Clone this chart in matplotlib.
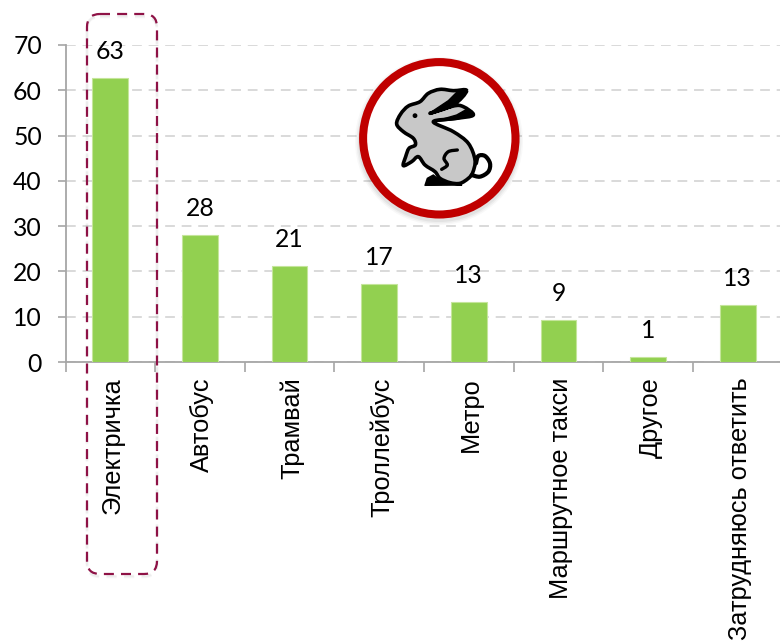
import matplotlib
matplotlib.use("Agg")
import numpy as np
import matplotlib.pyplot as plt
from matplotlib.patches import Circle, FancyBboxPatch, PathPatch, Polygon
from matplotlib.path import Path
from matplotlib.transforms import Affine2D, ScaledTranslation

categories = ["Электричка", "Автобус", "Трамвай", "Троллейбус", "Метро",
              "Маршрутное такси", "Другое", "Затрудняюсь ответить"]
values = [62.8, 28, 21.3, 17.3, 13.2, 9.2, 1, 12.6]
labels = ["63", "28", "21", "17", "13", "9", "1", "13"]
yticks = [0, 10, 20, 30, 40, 50, 60, 70]

W, H = 780, 643
GRAY = "#A6A6A6"
BOX = "#8E1246"

# rabbit outline, pixels of the zoomed crop
rabbit_pts = [(380,122),(340,122),(300,118),(265,130),(240,155),(205,168),(182,192),(170,222),
              (190,245),(220,265),(226,285),(207,295),(197,320),(190,347),(215,335),(235,320),
              (255,345),(285,365),(300,385),(330,398),(360,400),(385,385),(398,368),
              (405,330),(385,280),(340,245),(280,215),(350,205),(400,195),(370,170),(340,168),
              (270,190),(340,165)]
belly_pts = [(305,358),(322,345),(312,325),(325,305),(352,300)]
tail_pts = [(395,375),(420,380),(445,365),(450,340),(435,318),(415,318),(408,340)]
ear1_pts = [(382,122),(352,125),(325,152),(268,190),(340,168)]
ear2_pts = [(402,195),(380,178),(350,195),(278,216),(350,208)]
foot_pts = [(255,406),(262,385),(280,375),(300,392),(335,402),(365,405)]


def px_transform(fig):
    # top-left pixel coordinates -> display
    return Affine2D().scale(1, -1).translate(0, H) + Affine2D().scale(fig.dpi / 100)


def crop(pts):
    return [(340 + x / 3, 50 + y / 3) for x, y in pts]


def smooth(pts, closed=False):
    # catmull-rom through the points, as bezier segments
    p = np.array(pts, dtype=float)
    n = len(p)
    verts = [tuple(p[0])]
    codes = [Path.MOVETO]
    for i in range(n if closed else n - 1):
        p0 = p[(i - 1) % n] if closed or i > 0 else p[i]
        p1, p2 = p[i], p[(i + 1) % n]
        p3 = p[(i + 2) % n] if closed or i + 2 < n else p2
        verts += [tuple(p1 + (p2 - p0) / 6), tuple(p2 - (p3 - p1) / 6), tuple(p2)]
        codes += [Path.CURVE4] * 3
    return Path(verts, codes)


fig = plt.figure(figsize=(7.8, 6.43), dpi=100)
ax = fig.add_axes([65.5 / W, (H - 362) / H, 717 / W, 317 / H])

x = np.arange(len(categories))
ax.bar(x, values, width=0.4, color="#92D050", edgecolor="#C5E59B", linewidth=0.8, zorder=3)

for xi, v, s in zip(x, values, labels):
    ax.annotate(s, (xi, v), xytext=(0, 10.8), textcoords="offset points", ha="center", va="bottom",
                fontsize=17.8, family="Lato", color="black", zorder=5, annotation_clip=False)

ax.set_xlim(-0.5, 7.5)
ax.set_ylim(0, 70)
ax.set_yticks(yticks)
ax.set_yticklabels([str(t) for t in yticks], fontsize=17.8, family="Lato")
ax.set_xticks(x)
ax.set_xticklabels(categories, rotation=90, fontsize=18.3, family="Liberation Sans", va="top", ha="center")
ax.set_xticks(np.arange(-0.5, 8, 1), minor=True)
ax.tick_params(axis="x", which="major", length=0, pad=11)
ax.tick_params(axis="x", which="minor", length=7, width=1.2, color=GRAY)
ax.tick_params(axis="y", length=6, width=1.2, color=GRAY, pad=11)

# the rotated labels sit a little right of the bar centres
shift = ScaledTranslation(2.5 / 100, 0, fig.dpi_scale_trans)
for t in ax.get_xticklabels():
    t.set_transform(t.get_transform() + shift)

ax.grid(axis="y", color="#D9D9D9", linestyle=(0, (5, 3.5)), linewidth=1.4, zorder=0)
ax.set_axisbelow(True)
for side in ["top", "right"]:
    ax.spines[side].set_visible(False)
for side in ["left", "bottom"]:
    ax.spines[side].set_color(GRAY)
    ax.spines[side].set_linewidth(1.3)

tr = px_transform(fig)

# soft shadow + ring
for r, a in [(84, 0.04), (82.5, 0.06), (81, 0.08)]:
    fig.add_artist(Circle((439, 141), r, transform=tr, fc="#555555", ec="none", alpha=a, zorder=6))
fig.add_artist(Circle((439.3, 138.3), 76.2, transform=tr, fc="white", ec="#C00000", lw=5.8, zorder=7))

# rabbit
fig.add_artist(PathPatch(smooth(crop(rabbit_pts), closed=True), transform=tr, fc="#C8C8C8", ec="black",
                         lw=2.6, joinstyle="round", zorder=8))
fig.add_artist(PathPatch(smooth(crop(tail_pts)), transform=tr, fc="none", ec="black", lw=3,
                         capstyle="round", zorder=8))
fig.add_artist(PathPatch(smooth(crop(belly_pts)), transform=tr, fc="none", ec="black", lw=2.4,
                         capstyle="round", zorder=8))
for part in [ear1_pts, ear2_pts, foot_pts]:
    fig.add_artist(Polygon(crop(part), closed=True, transform=tr, fc="black", ec="black", lw=1,
                           joinstyle="round", zorder=8))
fig.add_artist(Circle(crop([(225, 197)])[0], 2.4, transform=tr, fc="black", ec="none", zorder=9))

# dashed highlight around first category
for dy, a in [(3, 0.06), (2, 0.08)]:
    fig.add_artist(FancyBboxPatch((87, 14 + dy), 70, 560, boxstyle="round,pad=0,rounding_size=13",
                                  transform=tr, fc="none", ec="#777777", lw=1.8, alpha=a,
                                  linestyle=(0, (4, 3)), zorder=4))
fig.add_artist(FancyBboxPatch((87, 14), 70, 560, boxstyle="round,pad=0,rounding_size=13",
                              transform=tr, fc="none", ec=BOX, lw=1.6,
                              linestyle=(0, (4.5, 3.2)), zorder=6))

fig.savefig("out.png", dpi=100)
